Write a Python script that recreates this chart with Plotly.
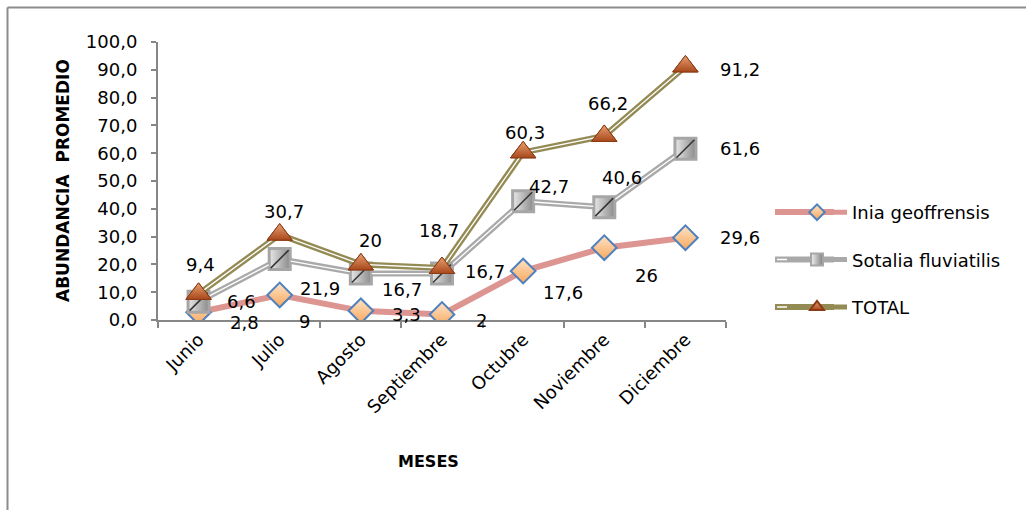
import plotly.graph_objects as go

# ---------------- data ----------------
meses = ["Junio", "Julio", "Agosto", "Septiembre", "Octubre", "Noviembre", "Diciembre"]
inia = [2.8, 9, 3.3, 2, 17.6, 26, 29.6]
sotalia = [6.6, 21.9, 16.7, 16.7, 42.7, 40.6, 61.6]
total = [9.4, 30.7, 20, 18.7, 60.3, 66.2, 91.2]

series_names = ["Inia geoffrensis", "Sotalia fluviatilis", "TOTAL"]

# label pixel offsets (dx right, dy down) relative to each point
off_inia = [(46, 10), (25, 27), (46, 4), (39, 6), (40, 21), (42, 28), (55, 0)]
off_sot = [(43, 0), (40, 29), (41, 16), (43, -2), (26, -15), (18, -30), (55, 0)]
off_tot = [(2, -29), (4, -23), (10, -24), (-3, -38), (2, -20), (4, -32), (55, 3)]

W, H = 1026, 510
ML, MR, MT, MB = 158, 300, 42, 190
PW, PH = W - ML - MR, H - MT - MB


def px_x(p):
    return (p - ML) / PW


def px_y(p):
    return (H - MB - p) / PH


def fmt(v):
    return f"{v:g}".replace(".", ",")


FONT = "DejaVu Sans"

# series styles
C_INIA = "#dd9592"
C_SOT = "#a9a9a9"
C_TOT = "#948a54"

fig = go.Figure()

# Inia geoffrensis
fig.add_trace(go.Scatter(
    x=meses, y=inia, mode="lines+markers", name=series_names[0],
    legendgroup="a",
    line=dict(color=C_INIA, width=6),
    marker=dict(symbol="diamond", size=19, color="#fde3c8",
                gradient=dict(type="vertical", color="#f8a85c"),
                line=dict(color="#4f81bd", width=2)),
))

# Sotalia fluviatilis (double line)
fig.add_trace(go.Scatter(
    x=meses, y=sotalia, mode="lines+markers", name=series_names[1],
    legendgroup="b",
    line=dict(color=C_SOT, width=6),
    marker=dict(symbol="square", size=22, color="#f2f2f2",
                gradient=dict(type="horizontal", color="#7f7f7f"),
                line=dict(color="#a6a6a6", width=2)),
))
fig.add_trace(go.Scatter(
    x=meses, y=sotalia, mode="lines", showlegend=False, hoverinfo="skip",
    line=dict(color="white", width=1.3),
))
fig.add_trace(go.Scatter(
    x=meses, y=sotalia, mode="markers", showlegend=False, hoverinfo="skip",
    marker=dict(symbol="square", size=20, color="#e6e6e6",
                gradient=dict(type="horizontal", color="#8c8c8c"),
                line=dict(color="#a6a6a6", width=2)),
))
fig.add_trace(go.Scatter(
    x=meses, y=sotalia, mode="markers", showlegend=False, hoverinfo="skip",
    marker=dict(symbol="line-ne", size=18, color="#333333",
                line=dict(color="#333333", width=1.5)),
))

# TOTAL (double line)
fig.add_trace(go.Scatter(
    x=meses, y=total, mode="lines+markers", name=series_names[2],
    legendgroup="c",
    line=dict(color=C_TOT, width=6),
    marker=dict(symbol="triangle-up", size=22, color="#e8a070",
                gradient=dict(type="vertical", color="#a8481c"),
                line=dict(color="#8a3a14", width=1)),
))
fig.add_trace(go.Scatter(
    x=meses, y=total, mode="lines", showlegend=False, hoverinfo="skip",
    line=dict(color="white", width=1.3),
))
fig.add_trace(go.Scatter(
    x=meses, y=total, mode="markers", showlegend=False, hoverinfo="skip",
    marker=dict(symbol="triangle-up", size=22, color="#e8a070",
                gradient=dict(type="vertical", color="#a8481c"),
                line=dict(color="#8a3a14", width=1)),
))

annotations = []
for vals, offs in ((inia, off_inia), (sotalia, off_sot), (total, off_tot)):
    for m, v, (dx, dy) in zip(meses, vals, offs):
        annotations.append(dict(
            x=m, y=v, xref="x", yref="y", text=fmt(v), showarrow=False,
            xshift=dx, yshift=-dy, font=dict(family=FONT, size=18, color="black"),
        ))

annotations.append(dict(
    x=px_x(63), y=0.5, xref="paper", yref="paper", text="<b>ABUNDANCIA  PROMEDIO</b>",
    xanchor="center", yanchor="middle",
    textangle=-90, showarrow=False, font=dict(family=FONT, size=17, color="black"),
))
annotations.append(dict(
    x=px_x(428), y=px_y(461), xref="paper", yref="paper", text="<b>MESES</b>",
    xanchor="center", yanchor="middle",
    showarrow=False, font=dict(family=FONT, size=16, color="black"),
))

shapes = [
    dict(type="line", xref="paper", yref="paper", x0=px_x(7.5), x1=px_x(7.5),
         y0=px_y(7.5), y1=px_y(520), line=dict(color="#8c8c8c", width=2)),
    dict(type="line", xref="paper", yref="paper", x0=px_x(7.5), x1=px_x(1030),
         y0=px_y(7.5), y1=px_y(7.5), line=dict(color="#8c8c8c", width=2)),
]
# wider legend line samples (behind the legend symbols)
for ly, col, dbl in ((212, C_INIA, False), (259.5, C_SOT, True), (307, C_TOT, True)):
    shapes.append(dict(type="line", xref="paper", yref="paper", layer="above",
                       x0=px_x(775), x1=px_x(834), y0=px_y(ly), y1=px_y(ly),
                       line=dict(color=col, width=6)))
    if dbl:
        shapes.append(dict(type="line", xref="paper", yref="paper", layer="above",
                           x0=px_x(777), x1=px_x(832), y0=px_y(ly), y1=px_y(ly),
                           line=dict(color="white", width=1.3)))

fig.update_layout(
    width=W, height=H,
    margin=dict(l=ML, r=MR, t=MT, b=MB),
    paper_bgcolor="white", plot_bgcolor="white",
    separators=",.",
    font=dict(family=FONT, size=18, color="black"),
    showlegend=True,
    legend=dict(x=px_x(782), y=px_y(194), xanchor="left", yanchor="top",
                tracegroupgap=21, itemsizing="constant", itemwidth=60,
                font=dict(family=FONT, size=18, color="black"),
                bgcolor="rgba(0,0,0,0)"),
    annotations=annotations,
    shapes=shapes,
)

fig.update_xaxes(
    type="category", range=[-0.5, 6.5],
    showline=True, linecolor="#868686", linewidth=2,
    ticks="outside", tickson="boundaries", ticklen=6, tickcolor="#868686", tickwidth=2,
    tickangle=-45, showgrid=False, zeroline=False,
    tickfont=dict(family=FONT, size=18, color="black"),
)
fig.update_yaxes(
    range=[0, 100], dtick=10, tickformat=".1f",
    showline=True, linecolor="#868686", linewidth=2,
    ticks="outside", ticklen=5, tickcolor="#868686", tickwidth=2,
    showgrid=False, zeroline=False, ticklabelstandoff=10,
    tickfont=dict(family=FONT, size=18, color="black"),
)

fig.write_html("out.html")
